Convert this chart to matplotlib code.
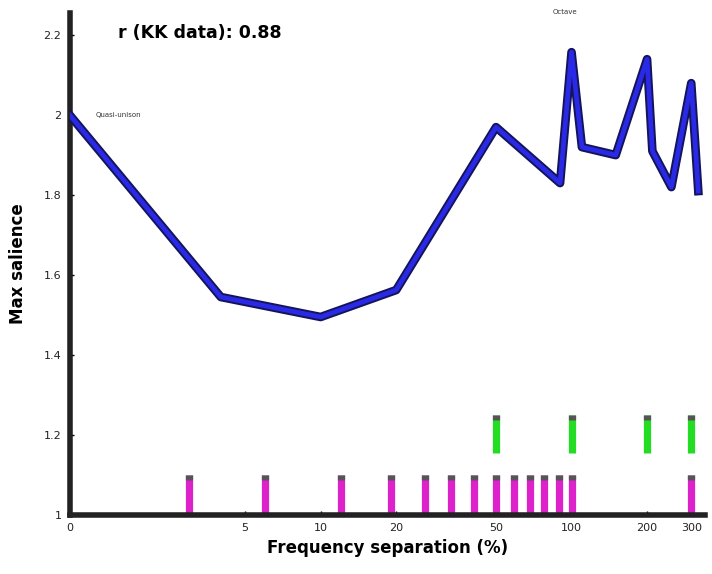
import matplotlib
matplotlib.use('Agg')
import matplotlib.pyplot as plt

# frequency separation (%) and max salience of the blue curve ("0" drawn at 1 on the log axis)
freq = [1, 4, 10, 20, 50, 90, 100, 110, 150, 200, 210, 250, 300, 320]
salience = [2.0, 1.545, 1.495, 1.5625, 1.97, 1.83, 2.1575, 1.92, 1.90, 2.14, 1.91, 1.82, 2.08, 1.81]

# magenta markers (semitone intervals) and green markers
magenta_x = [3, 6, 12, 19, 26, 33, 41, 50, 59, 68, 78, 89, 100, 300]
green_x = [50, 100, 200, 300]

xticks = [1, 5, 10, 20, 50, 100, 200, 300]
xticklabels = ['0', '5', '10', '20', '50', '100', '200', '300']
yticks = [1, 1.2, 1.4, 1.6, 1.8, 2, 2.2]
yticklabels = ['1', '1.2', '1.4', '1.6', '1.8', '2', '2.2']

fig = plt.figure(figsize=(7.12, 5.74), dpi=100)
ax = fig.add_axes([0.098, 0.103, 0.892, 0.874])

# markers: coloured bars with dark caps
ax.vlines(magenta_x, 1.0, 1.1, color='#dd22cc', linewidth=5.2, zorder=2)
ax.vlines(magenta_x, 1.088, 1.1, color='#555555', linewidth=5.2, zorder=3)
ax.vlines(green_x, 1.155, 1.25, color='#22dd22', linewidth=5.2, zorder=2)
ax.vlines(green_x, 1.238, 1.25, color='#555555', linewidth=5.2, zorder=3)

# blue curve with dark outline
ax.plot(freq, salience, color='#14145a', linewidth=6.2, solid_joinstyle='round', zorder=4)
ax.plot(freq, salience, color='#2a2ae6', linewidth=3.4, solid_joinstyle='round', zorder=5)

ax.set_xscale('log')
ax.set_xlim(1, 340)
ax.set_ylim(1, 2.255)
ax.set_xticks(xticks)
ax.set_xticklabels(xticklabels)
ax.minorticks_off()
ax.set_yticks(yticks)
ax.set_yticklabels(yticklabels)
ax.tick_params(direction='in', length=3, width=1, labelsize=8, pad=6, labelcolor='#222222')

for s in ['top', 'right']:
    ax.spines[s].set_visible(False)
for s in ['left', 'bottom']:
    ax.spines[s].set_linewidth(4)
    ax.spines[s].set_color('#222222')

ax.set_xlabel('Frequency separation (%)', fontsize=12, fontweight='bold', labelpad=4)
ax.set_ylabel('Max salience', fontsize=12, fontweight='bold', labelpad=12)

ax.text(0.076, 0.96, 'r (KK data): 0.88', transform=ax.transAxes, fontsize=12.5,
        fontweight='semibold', va='center', ha='left')
ax.text(0.04, 0.797, 'Quasi-unison', transform=ax.transAxes, fontsize=5,
        va='center', ha='left', color='#333333')
ax.text(0.78, 1.003, 'Octave', transform=ax.transAxes, fontsize=5,
        va='center', ha='center', color='#333333', clip_on=False)

fig.savefig('out.png', dpi=100)
